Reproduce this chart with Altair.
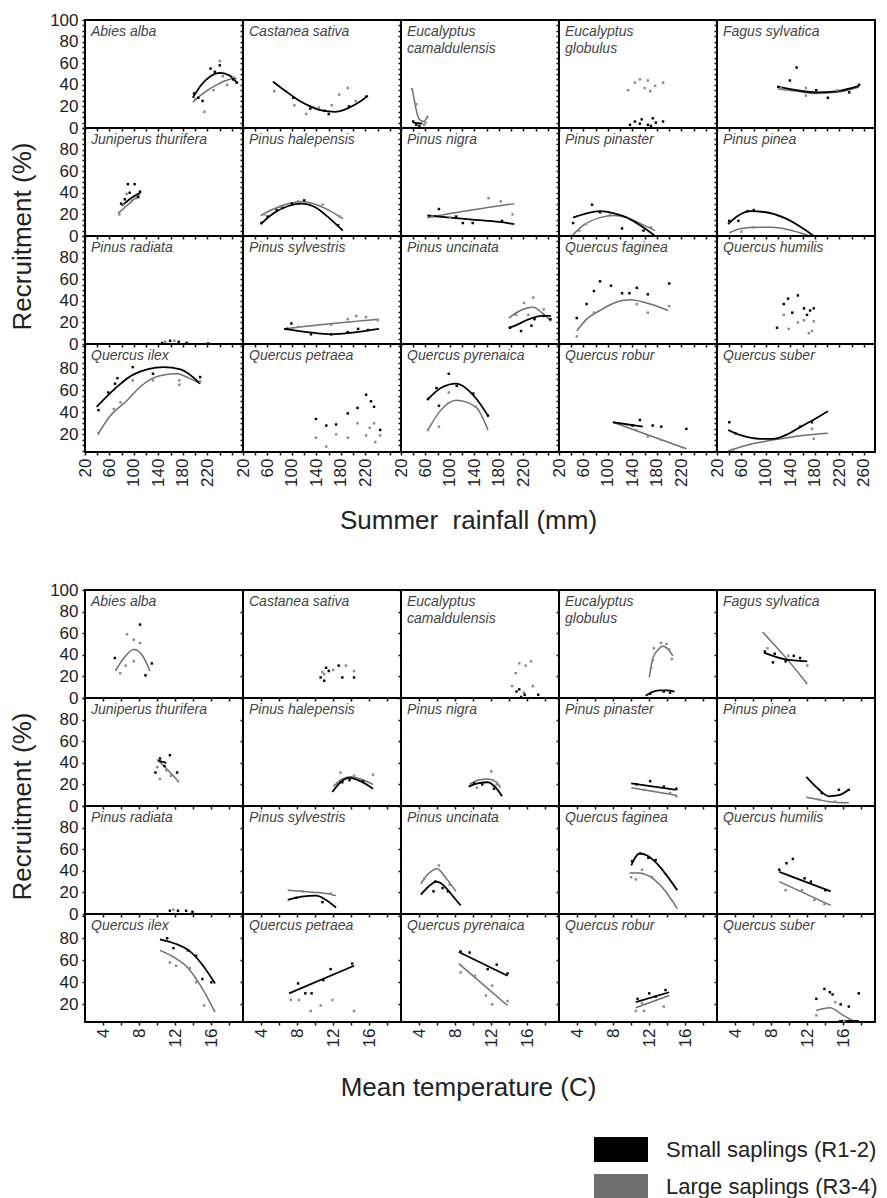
import altair as alt
import pandas as pd

# ---------------- data ----------------
SPECIES = ["Abies alba", "Castanea sativa", "Eucalyptus camaldulensis", "Eucalyptus globulus",
           "Fagus sylvatica", "Juniperus thurifera", "Pinus halepensis", "Pinus nigra",
           "Pinus pinaster", "Pinus pinea", "Pinus radiata", "Pinus sylvestris",
           "Pinus uncinata", "Quercus faginea", "Quercus humilis", "Quercus ilex",
           "Quercus petraea", "Quercus pyrenaica", "Quercus robur", "Quercus suber"]

SERIES = ["Small saplings (R1-2)", "Large saplings (R3-4)"]

RAIN_TICKS = list(range(20, 261, 20))
TEMP_TICKS = list(range(4, 19, 2))

# Summer rainfall (mm) vs recruitment (%)
RAIN_SMALL_PTS = {
    "Abies alba": [(198, 32), (205, 28), (212, 25), (225, 55), (232, 52), (240, 58), (262, 45), (268, 42)],
    "Castanea sativa": [(102, 28), (130, 18), (153, 16), (160, 13), (193, 20), (221, 29)],
    "Eucalyptus camaldulensis": [(40, 6), (45, 3), (50, 2)],
    "Eucalyptus globulus": [(136, 3), (144, 6), (152, 4), (155, 8), (165, 3), (170, 2), (173, 9), (178, 5), (190, 6)],
    "Fagus sylvatica": [(120, 38), (139, 44), (150, 56), (182, 35), (201, 28), (236, 33), (252, 40)],
    "Juniperus thurifera": [(79, 30), (85, 34), (90, 48), (93, 40), (101, 48), (107, 36), (110, 41)],
    "Pinus halepensis": [(50, 12), (60, 18), (75, 24), (85, 26), (100, 30), (120, 33), (175, 10)],
    "Pinus nigra": [(82, 25), (110, 18), (121, 12), (137, 12), (185, 14)],
    "Pinus pinaster": [(43, 12), (74, 29), (87, 22), (123, 7), (158, 5)],
    "Pinus pinea": [(40, 14), (55, 14), (70, 23), (80, 24)],
    "Pinus radiata": [(146, 1), (159, 3), (173, 2), (186, 1), (221, 0.5)],
    "Pinus sylvestris": [(92, 14), (99, 19), (131, 9), (164, 9), (191, 11), (208, 14), (224, 13)],
    "Pinus uncinata": [(198, 15), (216, 12), (233, 17), (238, 23), (253, 26), (264, 23)],
    "Quercus faginea": [(49, 24), (65, 37), (77, 49), (87, 58), (105, 54), (123, 47), (135, 47), (147, 52), (165, 46), (200, 56)],
    "Quercus humilis": [(118, 15), (129, 37), (136, 42), (143, 29), (152, 45), (162, 33), (167, 27), (172, 31), (178, 33)],
    "Quercus ilex": [(42, 42), (58, 58), (69, 66), (73, 71), (98, 81), (131, 75), (208, 72)],
    "Quercus petraea": [(139, 34), (156, 28), (172, 29), (191, 39), (207, 44), (221, 56), (229, 50), (234, 45), (244, 24)],
    "Quercus pyrenaica": [(64, 52), (78, 62), (82, 46), (98, 75), (111, 64), (138, 57), (162, 37)],
    "Quercus robur": [(140, 28), (152, 33), (173, 28), (187, 27), (228, 25)],
    "Quercus suber": [(40, 31), (50, 21), (156, 27), (175, 31)],
}
RAIN_LARGE_PTS = {
    "Abies alba": [(200, 27), (215, 15), (230, 35), (240, 62), (245, 48), (252, 40), (262, 47)],
    "Castanea sativa": [(71, 34), (104, 21), (123, 13), (144, 19), (165, 21), (177, 31), (191, 37), (204, 25)],
    "Eucalyptus camaldulensis": [(38, 36), (45, 22), (58, 3), (60, 5), (63, 10)],
    "Eucalyptus globulus": [(133, 35), (144, 42), (152, 45), (160, 37), (165, 44), (169, 34), (177, 39), (190, 42)],
    "Fagus sylvatica": [(124, 37), (165, 37), (165, 30), (217, 35)],
    "Juniperus thurifera": [(76, 20), (83, 29), (88, 39), (96, 33), (103, 35)],
    "Pinus halepensis": [(55, 20), (80, 27), (110, 32), (150, 29), (178, 18)],
    "Pinus nigra": [(71, 18), (100, 17), (163, 35), (183, 32), (202, 20)],
    "Pinus pinaster": [(53, 5), (64, 11), (103, 20), (170, 8)],
    "Pinus pinea": [(60, 4), (80, 8)],
    "Pinus radiata": [(151, 2), (166, 3)],
    "Pinus sylvestris": [(110, 16), (164, 18), (191, 23), (205, 26), (221, 25), (240, 22)],
    "Pinus uncinata": [(208, 27), (221, 38), (228, 27), (236, 43), (253, 32)],
    "Quercus faginea": [(49, 7), (77, 29), (147, 37), (165, 29), (200, 35)],
    "Quercus humilis": [(129, 27), (137, 14), (152, 20), (162, 22), (170, 10), (175, 12), (178, 21)],
    "Quercus ilex": [(42, 21), (67, 43), (78, 49), (98, 69), (131, 69), (174, 69), (174, 65), (208, 68)],
    "Quercus petraea": [(139, 17), (156, 9), (172, 20), (191, 17), (207, 30), (221, 19), (227, 26), (234, 30), (236, 13), (244, 19)],
    "Quercus pyrenaica": [(64, 24), (82, 27), (98, 58), (142, 45)],
    "Quercus robur": [(130, 27), (146, 24), (165, 18), (187, 15)],
    "Quercus suber": [(46, 6), (175, 25), (178, 16)],
}
RAIN_SMALL_FIT = {
    "Abies alba": [(196, 28), (210, 40), (225, 48), (240, 51), (255, 49), (268, 42)],
    "Castanea sativa": [(69, 43), (90, 34), (110, 26), (130, 20), (150, 16), (170, 15), (190, 18), (210, 24), (224, 30)],
    "Eucalyptus camaldulensis": [(40, 5), (55, 4)],
    "Fagus sylvatica": [(120, 38), (150, 35), (182, 33), (215, 34), (252, 39)],
    "Juniperus thurifera": [(80, 28), (95, 35), (110, 40)],
    "Pinus halepensis": [(49, 11), (70, 21), (95, 28), (115, 30), (140, 26), (160, 17), (183, 5)],
    "Pinus nigra": [(63, 19), (100, 17), (140, 15), (180, 13), (205, 11)],
    "Pinus pinaster": [(43, 17), (65, 21), (87, 23), (110, 21), (131, 17), (155, 9), (177, 0)],
    "Pinus pinea": [(38, 11), (55, 19), (75, 23), (100, 22), (129, 17), (155, 9), (178, 0)],
    "Pinus sylvestris": [(87, 14), (125, 11), (164, 9), (205, 11), (242, 14)],
    "Pinus uncinata": [(196, 15), (210, 18), (229, 23), (250, 26), (265, 26)],
    "Quercus ilex": [(39, 45), (70, 62), (98, 74), (148, 81), (176, 79), (208, 66)],
    "Quercus pyrenaica": [(64, 52), (85, 62), (110, 66), (142, 53), (162, 37)],
    "Quercus robur": [(108, 31), (157, 27)],
    "Quercus suber": [(38, 24), (60, 19), (90, 16), (113, 16), (135, 20), (157, 27), (180, 34), (201, 41)],
}
RAIN_LARGE_FIT = {
    "Abies alba": [(196, 24), (215, 33), (235, 40), (255, 45), (268, 46)],
    "Eucalyptus camaldulensis": [(38, 37), (42, 25), (46, 14), (50, 8), (56, 6), (64, 11)],
    "Fagus sylvatica": [(120, 36), (150, 34), (182, 32), (215, 33), (252, 38)],
    "Juniperus thurifera": [(74, 21), (92, 30), (110, 39)],
    "Pinus halepensis": [(49, 19), (70, 25), (95, 30), (117, 32), (140, 29), (160, 24), (183, 16)],
    "Pinus nigra": [(63, 17), (135, 24), (205, 30)],
    "Pinus pinaster": [(41, 0), (60, 10), (87, 17), (110, 19), (131, 17), (155, 11), (177, 5)],
    "Pinus pinea": [(40, 3), (60, 7), (87, 8), (110, 8), (135, 6), (172, 0)],
    "Pinus sylvestris": [(87, 14), (165, 19), (242, 23)],
    "Pinus uncinata": [(196, 24), (215, 31), (236, 34), (250, 29), (265, 21)],
    "Quercus faginea": [(49, 12), (65, 23), (87, 31), (110, 38), (136, 41), (169, 37), (198, 31)],
    "Quercus ilex": [(41, 20), (60, 36), (89, 51), (110, 63), (131, 71), (150, 74), (170, 75), (190, 71), (208, 66)],
    "Quercus pyrenaica": [(64, 24), (85, 42), (110, 51), (142, 45), (162, 24)],
    "Quercus robur": [(108, 31), (168, 19), (228, 7)],
    "Quercus suber": [(38, 5), (75, 11), (113, 15), (160, 19), (201, 21)],
}

# Mean temperature (C) vs recruitment (%)
TEMP_SMALL_PTS = {
    "Abies alba": [(5.3, 37), (8.1, 68), (8.7, 21), (9.4, 32)],
    "Castanea sativa": [(10.6, 19), (11.0, 16), (11.2, 28), (11.5, 25), (12.6, 30), (13.0, 19), (14.3, 19)],
    "Eucalyptus camaldulensis": [(14.8, 6), (15.1, 8), (15.3, 1), (15.7, 3), (17.2, 3)],
    "Eucalyptus globulus": [(12.1, 4), (13.6, 6), (14.3, 5)],
    "Fagus sylvatica": [(7.3, 43), (8.2, 33), (8.4, 41), (9.6, 34), (10.5, 39), (11.2, 37)],
    "Juniperus thurifera": [(9.8, 31), (10.3, 44), (10.8, 37), (11.4, 47), (12.2, 31)],
    "Pinus halepensis": [(13.0, 22), (13.8, 24), (15.3, 23)],
    "Pinus nigra": [(10.1, 21), (11.0, 20), (12.3, 16)],
    "Pinus pinaster": [(10.6, 20), (12.1, 23), (13.6, 18), (15.0, 16)],
    "Pinus pinea": [(13.6, 12), (15.5, 15), (16.6, 15)],
    "Pinus radiata": [(11.4, 3), (12.3, 3), (13.2, 3), (13.9, 2)],
    "Pinus sylvestris": [(7.9, 15), (10.8, 11)],
    "Pinus uncinata": [(5.6, 21), (5.8, 30), (6.6, 24), (7.2, 21)],
    "Quercus faginea": [(10.1, 49), (11.0, 56), (11.9, 52), (12.7, 50)],
    "Quercus humilis": [(8.9, 41), (9.7, 47), (10.4, 51), (11.7, 33), (12.4, 30), (14.0, 22)],
    "Quercus ilex": [(11.1, 80), (11.8, 71), (13.4, 69), (14.3, 64), (15.0, 43), (16.0, 40)],
    "Quercus petraea": [(8.1, 39), (8.9, 30), (9.6, 30), (10.9, 42), (11.7, 52), (14.1, 57)],
    "Quercus pyrenaica": [(8.6, 68), (9.6, 67), (11.6, 52), (12.6, 56), (13.8, 48)],
    "Quercus robur": [(10.7, 25), (12.0, 30), (12.7, 27), (13.8, 33)],
    "Quercus suber": [(13.0, 25), (13.9, 34), (14.5, 31), (14.8, 29), (15.7, 20), (16.6, 18), (17.7, 30)],
}
TEMP_LARGE_PTS = {
    "Abies alba": [(5.9, 23), (6.5, 30), (6.65, 59), (7.4, 54), (7.4, 34), (8.1, 51)],
    "Castanea sativa": [(10.8, 24), (11.0, 22), (12.0, 26), (13.4, 30), (14.3, 25)],
    "Eucalyptus camaldulensis": [(14.3, 11), (14.7, 23), (15.1, 32), (15.6, 5), (15.8, 30), (16.4, 34), (16.6, 11)],
    "Eucalyptus globulus": [(12.2, 28), (12.4, 35), (12.5, 46), (13.3, 51), (13.9, 50), (14.2, 45), (14.5, 36)],
    "Fagus sylvatica": [(7.6, 46), (9.9, 39), (12.0, 30)],
    "Juniperus thurifera": [(10.0, 36), (10.3, 25), (11.0, 33), (11.5, 28), (12.3, 23)],
    "Pinus halepensis": [(12.8, 31), (14.3, 28), (16.4, 29)],
    "Pinus nigra": [(10.4, 17), (12.0, 32), (12.6, 20)],
    "Pinus pinaster": [(11.4, 15), (14.3, 12), (15.0, 9)],
    "Pinus pinea": [(13.3, 6), (15.1, 4)],
    "Pinus radiata": [(11.8, 4)],
    "Pinus sylvestris": [(8.6, 21), (11.7, 19)],
    "Pinus uncinata": [(4.6, 33), (6.2, 45), (7.4, 27)],
    "Quercus faginea": [(10.0, 34), (10.5, 32), (11.2, 41), (12.3, 34)],
    "Quercus humilis": [(9.6, 22), (11.4, 22), (12.8, 13), (13.9, 9)],
    "Quercus ilex": [(11.4, 58), (12.1, 55), (13.6, 53), (14.3, 40), (15.2, 19)],
    "Quercus petraea": [(7.3, 24), (8.2, 24), (9.5, 14), (10.6, 19), (11.9, 24), (14.3, 14)],
    "Quercus pyrenaica": [(8.6, 49), (10.2, 46), (11.4, 28), (12.1, 37), (12.1, 20), (13.8, 23)],
    "Quercus robur": [(10.5, 14), (11.2, 21), (11.4, 14), (13.6, 18)],
    "Quercus suber": [(13.0, 10), (15.1, 22), (16.1, 5)],
}
TEMP_SMALL_FIT = {
    "Eucalyptus globulus": [(11.6, 2), (12.3, 5.5), (13.1, 7), (14.0, 7), (14.8, 6)],
    "Fagus sylvatica": [(7.2, 42), (9.45, 36), (12.0, 34)],
    "Juniperus thurifera": [(10.1, 42), (11.0, 40)],
    "Pinus halepensis": [(11.9, 13), (12.8, 22), (13.8, 26), (15.0, 23), (16.4, 16)],
    "Pinus nigra": [(9.5, 18), (10.5, 21), (11.6, 22), (12.5, 17), (13.2, 9)],
    "Pinus pinaster": [(10.0, 21), (15.0, 15)],
    "Pinus pinea": [(11.9, 27), (13.2, 16), (14.4, 9), (15.5, 10), (16.6, 15)],
    "Pinus sylvestris": [(6.95, 13), (8.5, 16), (10.1, 17), (11.2, 13), (12.3, 6)],
    "Pinus uncinata": [(4.2, 18), (5.0, 25), (5.9, 30), (6.5, 28), (7.0, 24), (7.8, 16), (8.6, 8)],
    "Quercus faginea": [(10.0, 45), (10.9, 56), (11.8, 54), (12.7, 48), (13.9, 36), (15.1, 22)],
    "Quercus humilis": [(8.9, 39), (14.6, 21)],
    "Quercus ilex": [(10.3, 79), (12.0, 75), (13.5, 69), (15.0, 56), (16.4, 39)],
    "Quercus petraea": [(7.1, 30), (14.3, 55)],
    "Quercus pyrenaica": [(8.4, 67.5), (13.8, 46)],
    "Quercus robur": [(10.5, 22), (14.2, 31)],
    "Quercus suber": [(15.5, 5), (17.7, 5)],
}
TEMP_LARGE_FIT = {
    "Abies alba": [(5.36, 25), (6.4, 38), (7.4, 45), (8.3, 40), (9.2, 25)],
    "Eucalyptus globulus": [(12.0, 19), (12.4, 37), (13.0, 45), (13.5, 48), (14.0, 46), (14.6, 39)],
    "Fagus sylvatica": [(7.06, 61), (9.45, 39), (12.0, 13)],
    "Juniperus thurifera": [(10.0, 43), (11.1, 34), (12.2, 24)],
    "Pinus halepensis": [(12.0, 18), (13.0, 25), (14.0, 27), (15.0, 25), (16.4, 20)],
    "Pinus nigra": [(9.6, 20), (10.6, 24), (11.6, 25), (12.6, 22), (13.0, 17)],
    "Pinus pinaster": [(10.0, 17), (15.0, 10)],
    "Pinus pinea": [(11.9, 8), (13.2, 6), (14.4, 4), (16.6, 3)],
    "Pinus sylvestris": [(6.95, 22), (8.5, 21), (10.1, 20), (11.2, 19), (12.3, 17)],
    "Pinus uncinata": [(4.2, 28), (5.0, 37), (6.0, 42), (7.0, 33), (8.1, 21)],
    "Quercus faginea": [(9.8, 38), (10.8, 38), (12.0, 35), (13.5, 24), (15.1, 5)],
    "Quercus humilis": [(8.9, 30), (14.6, 8)],
    "Quercus ilex": [(10.3, 69), (12.0, 62), (13.3, 54), (14.8, 37), (16.4, 13)],
    "Quercus pyrenaica": [(8.4, 57), (13.8, 19)],
    "Quercus robur": [(10.5, 17), (14.2, 28)],
    "Quercus suber": [(13.0, 14.5), (14.5, 17), (16.0, 10), (17.3, 4)],
}

# ---------------- styling ----------------
FONT = "Liberation Sans"
PW, PH = 158, 108
SMALL_C = "#000000"
LARGE_C = "#707070"
LARGE_PT_C = "#8a8a8a"
TXT_C = "#222222"


def panel(grid, idx, name):
    row, col = divmod(idx, 5)
    rain = grid == "rain"
    if rain:
        sets = [(RAIN_SMALL_PTS, "small", "pt"), (RAIN_LARGE_PTS, "large", "pt"),
                (RAIN_SMALL_FIT, "small", "fit"), (RAIN_LARGE_FIT, "large", "fit")]
        xdom = [20, 278]
        xticks = RAIN_TICKS
        if col < 4:
            xexpr = "(datum.value % 40 == 20 && datum.value < 250) ? datum.label : ''"
        else:
            xexpr = "datum.value % 40 == 20 ? datum.label : ''"
        ystep = 5
        xtitle = "Summer\u00a0\u00a0rainfall (mm)"
        xtitle_y = 55
    else:
        sets = [(TEMP_SMALL_PTS, "small", "pt"), (TEMP_LARGE_PTS, "large", "pt"),
                (TEMP_SMALL_FIT, "small", "fit"), (TEMP_LARGE_FIT, "large", "fit")]
        xdom = [2, 19.5]
        xticks = TEMP_TICKS
        xexpr = "datum.value % 4 == 0 ? datum.label : ''"
        ystep = 20
        xtitle = "Mean temperature (C)"
        xtitle_y = 52

    recs = []
    for d, s, k in sets:
        for x, y in d.get(name, []):
            recs.append({"x": x, "y": y, "s": s, "k": k})
    df = pd.DataFrame(recs)

    ydom = [0, 100] if row < 3 else [4, 102]
    yticks = [v for v in range(0, 101, ystep) if ydom[0] <= v <= ydom[1]]
    if row == 0:
        yexpr = "datum.value % 20 == 0 ? datum.label : ''"
    elif row < 3:
        yexpr = "(datum.value % 20 == 0 && datum.value < 90) ? datum.label : ''"
    else:
        yexpr = "(datum.value % 20 == 0 && datum.value >= 20 && datum.value < 90) ? datum.label : ''"

    xaxis_kw = dict(values=xticks, labels=(row == 3), labelAngle=270, labelExpr=xexpr,
                    labelOverlap=False, labelFlush=False, tickSize=3, labelPadding=3)
    if row == 3 and col == 2:
        xaxis_kw.update(title=xtitle, titleFontSize=26, titleX=67, titleY=xtitle_y, titleBaseline="top")
    else:
        xaxis_kw.update(title=None)
    yaxis_kw = dict(values=yticks, labels=(col == 0), labelExpr=yexpr, labelOverlap=False,
                    labelFlush=False, tickSize=3, labelPadding=4)
    if col == 0 and row == 1:
        yaxis_kw.update(title="Recruitment (%)", titleFontSize=26, titleX=-50, titleY=PH)
    else:
        yaxis_kw.update(title=None)

    base = alt.Chart(df).encode(
        x=alt.X("x:Q", scale=alt.Scale(domain=xdom, nice=False, zero=False), axis=alt.Axis(**xaxis_kw)),
        y=alt.Y("y:Q", scale=alt.Scale(domain=ydom, nice=False, zero=False), axis=alt.Axis(**yaxis_kw)),
    )
    layers = [
        base.transform_filter("datum.k == 'fit' && datum.s == 'large'").mark_line(
            color=LARGE_C, strokeWidth=1.5, interpolate="monotone"),
        base.transform_filter("datum.k == 'fit' && datum.s == 'small'").mark_line(
            color=SMALL_C, strokeWidth=1.8, interpolate="monotone"),
        base.transform_filter("datum.k == 'pt' && datum.s == 'large'").mark_point(
            shape="square", filled=True, size=6, color=LARGE_PT_C, opacity=1),
        base.transform_filter("datum.k == 'pt' && datum.s == 'small'").mark_point(
            shape="square", filled=True, size=6, color=SMALL_C, opacity=1),
    ]
    label = name.replace("Eucalyptus ", "Eucalyptus\n")
    layers.append(
        alt.Chart(pd.DataFrame({"name": [label]})).mark_text(
            align="left", baseline="top", font=FONT, fontStyle="italic", fontSize=14,
            color="#444444", lineBreak="\n", lineHeight=17
        ).encode(text="name:N", x=alt.value(6), y=alt.value(5))
    )
    if grid == "temp" and idx == 19:
        for i, (lab, colr) in enumerate(zip(SERIES, [SMALL_C, LARGE_C])):
            ldf = pd.DataFrame({"label": [lab]})
            y0 = 223 + i * 37
            layers.append(alt.Chart(ldf).mark_rect(color=colr).encode(
                x=alt.value(-123), x2=alt.value(-69), y=alt.value(y0), y2=alt.value(y0 + 25)))
            layers.append(alt.Chart(ldf).mark_text(
                align="left", baseline="middle", font=FONT, fontSize=22, color=TXT_C
            ).encode(text="label:N", x=alt.value(-51), y=alt.value(y0 + 12.5)))
    return alt.layer(*layers).properties(width=PW, height=PH)


def grid_chart(grid):
    return alt.concat(*[panel(grid, i, n) for i, n in enumerate(SPECIES)],
                      columns=5, spacing=0, bounds="flush")


chart = alt.vconcat(grid_chart("rain"), grid_chart("temp"), spacing=46).properties(
    padding={"left": 7, "top": 10, "right": 5, "bottom": 0}
).configure_view(
    stroke="black", strokeWidth=2
).configure_axis(
    labelFont=FONT, labelFontSize=17, labelColor=TXT_C, tickColor="#111111", tickWidth=1.5,
    domain=False, grid=False, titleFont=FONT, titleFontWeight="normal", titleColor=TXT_C
)

chart.save("out.html", embed_options={"renderer": "svg", "actions": False})
